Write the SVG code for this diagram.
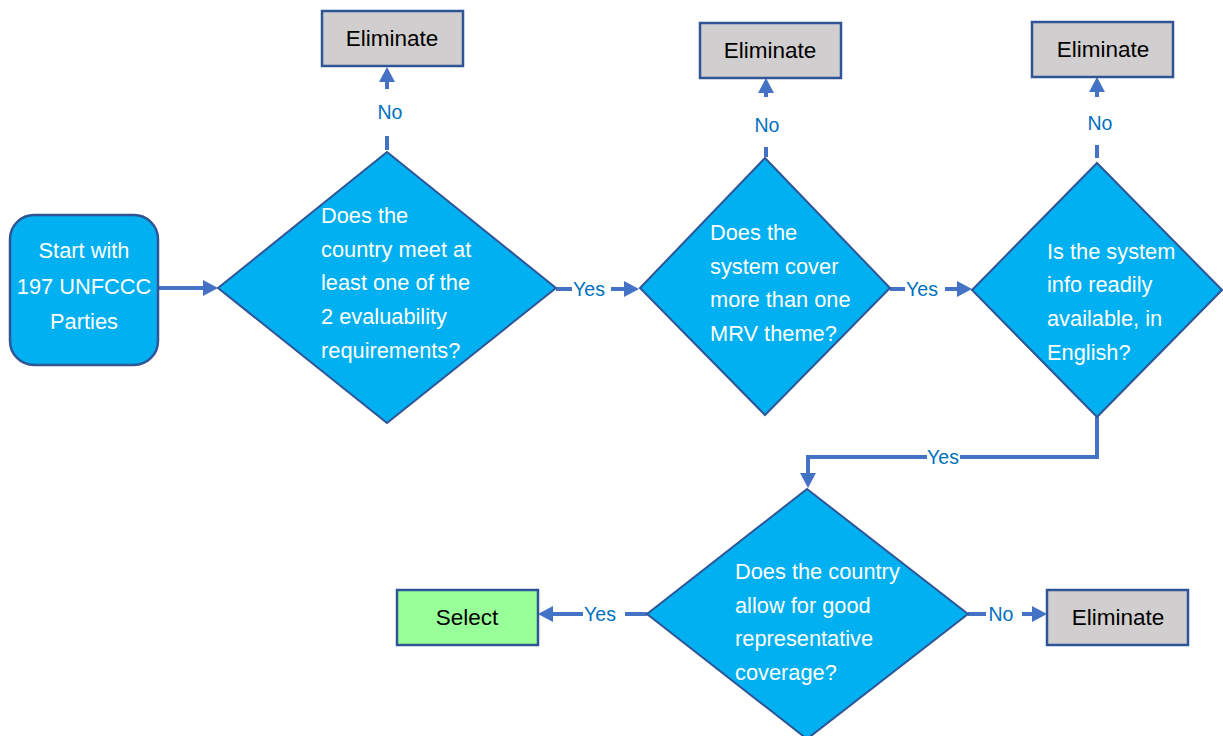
<svg xmlns="http://www.w3.org/2000/svg" width="1223" height="736" viewBox="0 0 1223 736">
  <defs>
    <marker id="arrow" markerUnits="userSpaceOnUse" markerWidth="16" markerHeight="16" refX="0" refY="8" orient="auto">
      <path d="M0,0 L15,8 L0,16 z" fill="#4472C4"/>
    </marker>
    <style>
      .conn { stroke: #4472C4; stroke-width: 4; fill: none; }
      .arr { marker-end: url(#arrow); }
      .decision { fill: #00B0F0; stroke: #2F5597; stroke-width: 2; }
      .start { fill: #00B0F0; stroke: #2F5597; stroke-width: 2.5; }
      .elim { fill: #D0CECE; stroke: #2F5597; stroke-width: 2.5; }
      .sel { fill: #99FF99; stroke: #2F5597; stroke-width: 2.5; }
      .wt { font-family: "Liberation Sans", Arial, sans-serif; font-size: 21.8px; fill: #FFFFFF; }
      .bt { font-family: "Liberation Sans", Arial, sans-serif; font-size: 22.5px; fill: #000000; text-anchor: middle; }
      .lbl { font-family: "Liberation Sans", Arial, sans-serif; font-size: 19.5px; fill: #0070C0; text-anchor: middle; }
    </style>
  </defs>
  <rect width="1223" height="736" fill="#FFFFFF"/>

  <!-- connectors -->
  <g id="connectors">
    <!-- start to first decision -->
    <line class="conn arr" x1="158" y1="288" x2="203" y2="288"/>

    <!-- decision 1: No (up) -->
    <line class="conn" x1="387" y1="150" x2="387" y2="136"/>
    <line class="conn arr" x1="387" y1="89" x2="387" y2="82"/>
    <text class="lbl" x="390" y="119">No</text>

    <!-- decision 1: Yes (right) -->
    <line class="conn" x1="556" y1="289" x2="572" y2="289"/>
    <line class="conn arr" x1="611" y1="289" x2="624" y2="289"/>
    <text class="lbl" x="589" y="296">Yes</text>

    <!-- decision 2: No (up) -->
    <line class="conn" x1="766" y1="157" x2="766" y2="147"/>
    <line class="conn arr" x1="766" y1="97" x2="766" y2="93"/>
    <text class="lbl" x="767" y="132">No</text>

    <!-- decision 2: Yes (right) -->
    <line class="conn" x1="890" y1="289" x2="905" y2="289"/>
    <line class="conn arr" x1="945" y1="289" x2="957" y2="289"/>
    <text class="lbl" x="922" y="296">Yes</text>

    <!-- decision 3: No (up) -->
    <line class="conn" x1="1097" y1="158" x2="1097" y2="145"/>
    <line class="conn arr" x1="1097" y1="97" x2="1097" y2="92"/>
    <text class="lbl" x="1100" y="130">No</text>

    <!-- decision 3: Yes (down, across, down) -->
    <path class="conn" d="M1097,417 L1097,457 L960,457"/>
    <path class="conn arr" d="M927,457 L808,457 L808,473"/>
    <text class="lbl" x="943" y="464">Yes</text>

    <!-- decision 4: Yes (left) -->
    <line class="conn" x1="647" y1="614" x2="625" y2="614"/>
    <line class="conn arr" x1="583" y1="614" x2="553" y2="614"/>
    <text class="lbl" x="600" y="621">Yes</text>

    <!-- decision 4: No (right) -->
    <line class="conn" x1="968" y1="614" x2="986" y2="614"/>
    <line class="conn arr" x1="1022" y1="614" x2="1032" y2="614"/>
    <text class="lbl" x="1001" y="621">No</text>
  </g>

  <g id="start">
    <rect class="start" x="10" y="215" width="148" height="150" rx="24"/>
    <text class="wt" x="84" y="258" text-anchor="middle" font-size="22.5">Start with</text>
    <text class="wt" x="84" y="294" text-anchor="middle" font-size="22.5">197 UNFCCC</text>
    <text class="wt" x="84" y="329" text-anchor="middle" font-size="22.5">Parties</text>
  </g>

  <g id="q-evaluability">
    <polygon class="decision" points="387,152 556,288 387,423 218,288"/>
    <text class="wt" x="321" y="223">Does the</text>
    <text class="wt" x="321" y="257">country meet at</text>
    <text class="wt" x="321" y="290">least one of the</text>
    <text class="wt" x="321" y="324">2 evaluability</text>
    <text class="wt" x="321" y="358">requirements?</text>
  </g>

  <g id="q-mrv-themes">
    <polygon class="decision" points="765,158 890,288 765,415 640,288"/>
    <text class="wt" x="710" y="240">Does the</text>
    <text class="wt" x="710" y="274">system cover</text>
    <text class="wt" x="710" y="307">more than one</text>
    <text class="wt" x="710" y="341">MRV theme?</text>
  </g>

  <g id="q-english">
    <polygon class="decision" points="1097,163 1222,290 1097,417 972,290"/>
    <text class="wt" x="1047" y="259">Is the system</text>
    <text class="wt" x="1047" y="292">info readily</text>
    <text class="wt" x="1047" y="326">available, in</text>
    <text class="wt" x="1047" y="360">English?</text>
  </g>

  <g id="q-coverage">
    <polygon class="decision" points="807,489 968,614 807,739 647,614"/>
    <text class="wt" x="735" y="579">Does the country</text>
    <text class="wt" x="735" y="613">allow for good</text>
    <text class="wt" x="735" y="646">representative</text>
    <text class="wt" x="735" y="680">coverage?</text>
  </g>

  <g id="eliminate-1">
    <rect class="elim" x="322" y="11" width="141" height="55"/>
    <text class="bt" x="392" y="46">Eliminate</text>
  </g>

  <g id="eliminate-2">
    <rect class="elim" x="700" y="23" width="141" height="55"/>
    <text class="bt" x="770" y="58">Eliminate</text>
  </g>

  <g id="eliminate-3">
    <rect class="elim" x="1032" y="22" width="141" height="55"/>
    <text class="bt" x="1103" y="57">Eliminate</text>
  </g>

  <g id="eliminate-4">
    <rect class="elim" x="1047" y="590" width="141" height="55"/>
    <text class="bt" x="1118" y="625">Eliminate</text>
  </g>

  <g id="select">
    <rect class="sel" x="397" y="590" width="141" height="55"/>
    <text class="bt" x="467" y="625">Select</text>
  </g>
</svg>
